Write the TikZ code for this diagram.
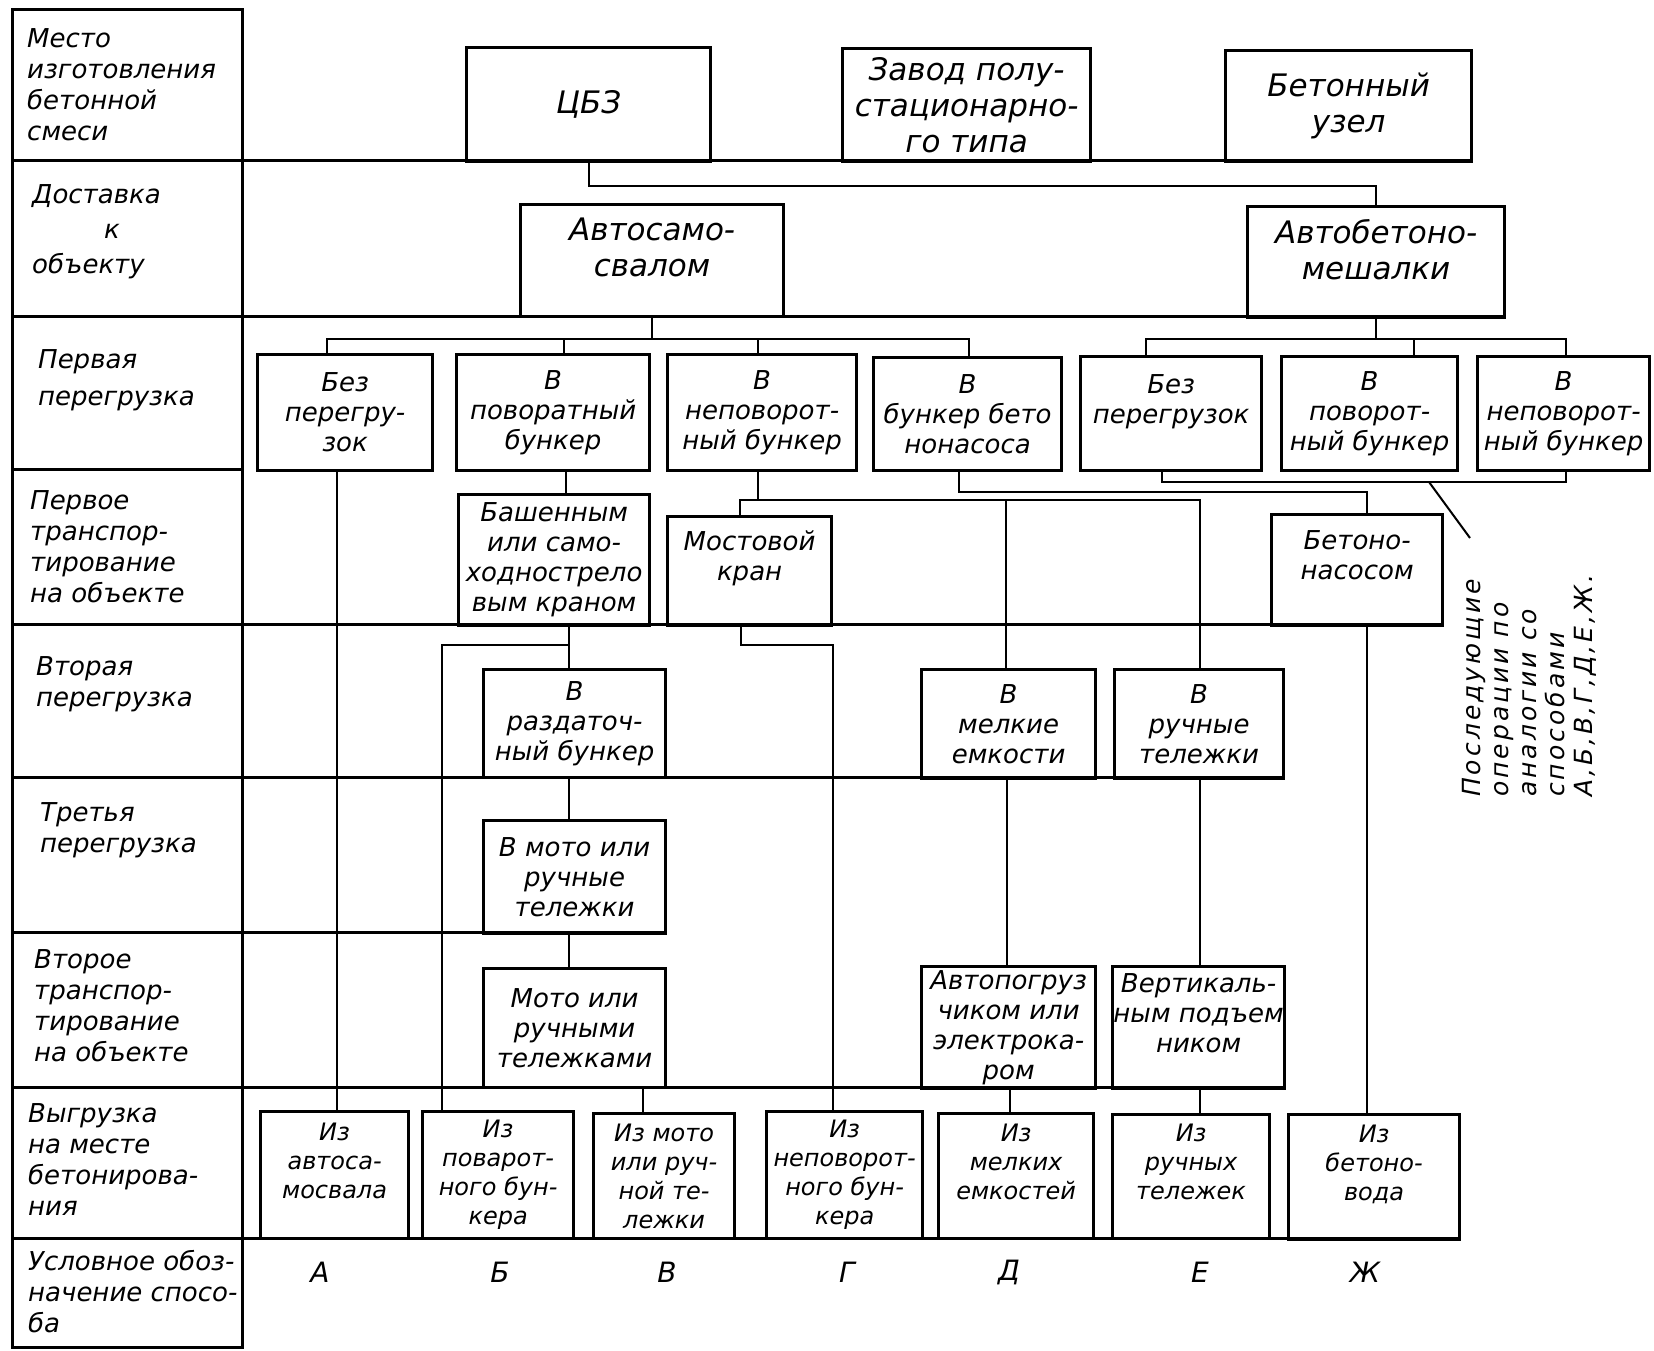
\documentclass[tikz,border=0pt]{standalone}
\usepackage{fontspec}
\setmainfont{DejaVu Sans}
\newfontfamily\notefont{DejaVu Sans}[LetterSpace=12]
\begin{document}
\begin{tikzpicture}[x=1pt,y=-1pt,
  box/.style={draw, line width=3.2pt, align=center, inner sep=0pt, anchor=north west, font=\itshape\fontsize{26}{30}\selectfont},
  bigbox/.style={box, font=\itshape\fontsize{31}{36}\selectfont},
  lowbox/.style={box, font=\itshape\fontsize{24}{29}\selectfont},
  lab/.style={anchor=west, align=left, inner sep=0pt, font=\itshape\fontsize{26}{31}\selectfont},
  rowline/.style={line width=3pt},
  conn/.style={line width=2pt},
  letter/.style={font=\itshape\fontsize{28}{32}\selectfont, inner sep=0pt}]
\useasboundingbox (0,0) rectangle (1654,1350);
\fill[white] (0,0) rectangle (1654,1350);

% table frame and row lines
\draw[rowline] (12,9) rectangle (242,1347);
\draw[rowline] (12,160) -- (1470,160);
\draw[rowline] (12,316) -- (1503,316);
\draw[rowline] (12,469) -- (242,469);
\draw[rowline] (12,624) -- (1441,624);
\draw[rowline] (12,777) -- (1283,777);
\draw[rowline] (12,932) -- (664,932);
\draw[rowline] (12,1087) -- (1283,1087);
\draw[rowline] (12,1238) -- (1458,1238);

% row labels
\node[lab] (lab1) at (27,85) {Место\\изготовления\\бетонной\\смеси};
\node[lab] (lab2) at (32,232) {Доставка\\[4pt]\hspace*{72pt}к\\[4pt]объекту};
\node[lab] (lab3) at (38,380) {Первая\\[6pt]перегрузка};
\node[lab] (lab4) at (30,547) {Первое\\транспор-\\тирование\\на объекте};
\node[lab] (lab5) at (36,684) {Вторая\\перегрузка};
\node[lab] (lab6) at (40,830) {Третья\\перегрузка};
\node[lab] (lab7) at (34,1006) {Второе\\транспор-\\тирование\\на объекте};
\node[lab] (lab8) at (28,1160) {Выгрузка\\на месте\\бетонирова-\\ния};
\node[lab] (lab9) at (28,1292) {Условное обоз-\\начение спосо-\\ба};

% boxes
\node[bigbox, minimum width=244pt, minimum height=114pt] (cbz) at (465,46) {ЦБЗ};
\node[bigbox, minimum width=248pt, minimum height=113pt] (zavod) at (841,47) {Завод полу-\\стационарно-\\го типа};
\node[bigbox, minimum width=246pt, minimum height=111pt] (uzel) at (1224,49) {Бетонный\\узел};
\node[bigbox, minimum width=263pt, minimum height=112pt] (avs) at (519,203) {Автосамо-\\свалом\\[-10pt]~};
\node[bigbox, minimum width=257pt, minimum height=111pt] (abm) at (1246,205) {Автобетоно-\\мешалки\\[-10pt]~};

\node[box, minimum width=175pt, minimum height=116pt] (b1) at (256,353) {Без\\перегру-\\зок};
\node[box, minimum width=193pt, minimum height=116pt] (b2) at (455,353) {В\\поворатный\\бункер};
\node[box, minimum width=189pt, minimum height=116pt] (b3) at (666,353) {В\\неповорот-\\ный бункер};
\node[box, minimum width=188pt, minimum height=113pt] (b4) at (872,356) {В\\бункер бето\\нонасоса};
\node[box, minimum width=181pt, minimum height=114pt] (b5) at (1079,355) {Без\\перегрузок\\~};
\node[box, minimum width=176pt, minimum height=114pt] (b6) at (1280,355) {В\\поворот-\\ный бункер};
\node[box, minimum width=172pt, minimum height=114pt] (b7) at (1476,355) {В\\неповорот-\\ный бункер};

\node[box, minimum width=191pt, minimum height=131pt] (t1) at (457,493) {Башенным\\или само-\\ходнострело\\вым краном};
\node[box, minimum width=164pt, minimum height=109pt] (t2) at (666,515) {Мостовой\\кран\\~};
\node[box, minimum width=171pt, minimum height=111pt] (t3) at (1270,513) {Бетоно-\\насосом\\~};

\node[box, minimum width=182pt, minimum height=108pt] (s1) at (482,668) {В\\раздаточ-\\ный бункер};
\node[box, minimum width=174pt, minimum height=109pt] (s2) at (920,668) {В\\мелкие\\емкости};
\node[box, minimum width=169pt, minimum height=109pt] (s3) at (1113,668) {В\\ручные\\тележки};

\node[box, minimum width=182pt, minimum height=113pt] (r1) at (482,819) {В мото или\\ручные\\тележки};

\node[box, minimum width=182pt, minimum height=119pt] (v1) at (482,967) {Мото или\\ручными\\тележками};
\node[box, minimum width=174pt, minimum height=122pt] (v2) at (920,965) {Автопогруз\\чиком или\\электрока-\\ром};
\node[box, minimum width=172pt, minimum height=122pt] (v3) at (1111,965) {Вертикаль-\\ным подъем\\ником\\~};

\node[lowbox, minimum width=148pt, minimum height=127pt] (uA) at (259,1110) {Из\\автоса-\\мосвала\\~};
\node[lowbox, minimum width=151pt, minimum height=127pt] (uB) at (421,1110) {Из\\поварот-\\ного бун-\\кера};
\node[lowbox, minimum width=141pt, minimum height=125pt] (uV) at (592,1112) {Из мото\\или руч-\\ной те-\\лежки};
\node[lowbox, minimum width=156pt, minimum height=127pt] (uG) at (765,1110) {Из\\неповорот-\\ного бун-\\кера};
\node[lowbox, minimum width=155pt, minimum height=125pt] (uD) at (937,1112) {Из\\мелких\\емкостей\\~};
\node[lowbox, minimum width=157pt, minimum height=124pt] (uE) at (1111,1113) {Из\\ручных\\тележек\\~};
\node[lowbox, minimum width=171pt, minimum height=125pt] (uZh) at (1287,1113) {Из\\бетоно-\\вода\\~};

% method letters
\node[letter] (lA) at (320,1272) {А};
\node[letter] (lB) at (500,1272) {Б};
\node[letter] (lV) at (667,1272) {В};
\node[letter] (lG) at (847,1272) {Г};
\node[letter] (lD) at (1009,1272) {Д};
\node[letter] (lE) at (1200,1272) {Е};
\node[letter] (lZh) at (1365,1272) {Ж};

% rotated note
\node[anchor=north west, rotate=90, align=left, inner sep=0pt,
      font=\notefont\itshape\fontsize{25}{28}\selectfont] (note) at (1462,797)
  {Последующие\\операции по\\аналогии со\\способами\\А,Б,В,Г,Д,Е,Ж.};

% helper coordinates
\coordinate (y339) at (0,339);
\coordinate (y482) at (0,482);
\coordinate (y492) at (0,492);
\coordinate (y500) at (0,500);
\coordinate (y645) at (0,645);
\foreach \xx in {327,337,442,564,566,569,643,740,741,758,833,959,969,1006,1007,1010,1146,1162,1200,1367,1414,1566}
  {\coordinate (x\xx) at (\xx,0);}

% connectors
\draw[conn] (cbz.south) -- ++(0,23) -| (abm.north);
\draw[conn] (avs.south) -- (avs.south |- y339);
\draw[conn] (b1.north -| x327) |- (y339 -| x969) -- (b4.north -| x969);
\draw[conn] (x564 |- y339) -- (b2.north -| x564);
\draw[conn] (x758 |- y339) -- (b3.north -| x758);

\draw[conn] (abm.south) -- (abm.south |- y339);
\draw[conn] (b5.north -| x1146) |- (y339 -| x1566) -- (b7.north -| x1566);
\draw[conn] (x1414 |- y339) -- (b6.north -| x1414);
\draw[conn] (b5.south -| x1162) |- (y482 -| x1566) -- (b7.south -| x1566);
\coordinate (lead) at (1429,482);
\coordinate (leadend) at (1470,538);
\draw[conn] (lead) -- (leadend);

\draw[conn] (b1.south -| x337) -- (uA.north -| x337);
\draw[conn] (b2.south -| x566) -- (t1.north -| x566);
\draw[conn] (t1.south -| x569) -- (s1.north -| x569);
\draw[conn] (x569 |- y645) -| (uB.north -| x442);
\draw[conn] (b3.south -| x758) -- (x758 |- y500);
\draw[conn] (t2.north -| x740) |- (y500 -| x1200) -- (s3.north -| x1200);
\draw[conn] (x1006 |- y500) -- (s2.north -| x1006);
\draw[conn] (t2.south -| x741) |- (y645 -| x833) -- (uG.north -| x833);
\draw[conn] (b4.south -| x959) |- (y492 -| x1367) -- (t3.north -| x1367);
\draw[conn] (t3.south -| x1367) -- (uZh.north -| x1367);
\draw[conn] (s1.south -| x569) -- (r1.north -| x569);
\draw[conn] (r1.south -| x569) -- (v1.north -| x569);
\draw[conn] (v1.south -| x643) -- (uV.north -| x643);
\draw[conn] (s2.south -| x1007) -- (v2.north -| x1007);
\draw[conn] (v2.south -| x1010) -- (uD.north -| x1010);
\draw[conn] (s3.south -| x1200) -- (v3.north -| x1200);
\draw[conn] (v3.south -| x1200) -- (uE.north -| x1200);
\end{tikzpicture}
\end{document}
